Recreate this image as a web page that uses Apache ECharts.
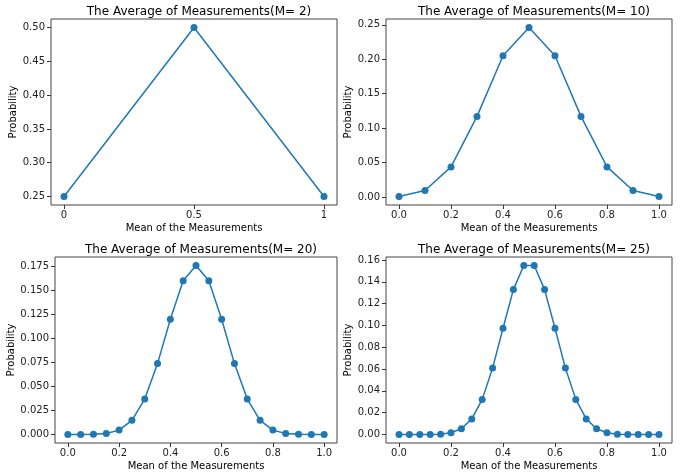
<!DOCTYPE html>
<html>
<head>
<meta charset="utf-8">
<script src="https://cdn.jsdelivr.net/npm/echarts@6/dist/echarts.min.js"></script>
<style>html,body{margin:0;padding:0;background:#fff}#c{width:692px;height:474px}</style>
</head>
<body>
<div id="c"></div>
<script>
// ---- data ----
const titles = ['The Average of Measurements(M= 2)', 'The Average of Measurements(M= 10)', 'The Average of Measurements(M= 20)', 'The Average of Measurements(M= 25)'];
const xM2 = [0, 0.5, 1];
const yM2 = [0.25, 0.5, 0.25];
const xM10 = [0, 0.1, 0.2, 0.3, 0.4, 0.5, 0.6, 0.7, 0.8, 0.9, 1.0];
const yM10 = [0.000977, 0.009766, 0.043945, 0.117188, 0.205078, 0.246094, 0.205078, 0.117188, 0.043945, 0.009766, 0.000977];
const xM20 = [0, 0.05, 0.1, 0.15, 0.2, 0.25, 0.3, 0.35, 0.4, 0.45, 0.5, 0.55, 0.6, 0.65, 0.7, 0.75, 0.8, 0.85, 0.9, 0.95, 1.0];
const yM20 = [0.000001, 0.000019, 0.000181, 0.001087, 0.004621, 0.014786, 0.036964, 0.073929, 0.120134, 0.160179, 0.176197, 0.160179, 0.120134, 0.073929, 0.036964, 0.014786, 0.004621, 0.001087, 0.000181, 0.000019, 0.000001];
const xM25 = [0, 0.04, 0.08, 0.12, 0.16, 0.2, 0.24, 0.28, 0.32, 0.36, 0.4, 0.44, 0.48, 0.52, 0.56, 0.6, 0.64, 0.68, 0.72, 0.76, 0.8, 0.84, 0.88, 0.92, 0.96, 1.0];
const yM25 = [0.00000003, 0.00000075, 0.0000089, 0.0000685, 0.000377, 0.001583, 0.005278, 0.014326, 0.032233, 0.060886, 0.097417, 0.132842, 0.154982, 0.154982, 0.132842, 0.097417, 0.060886, 0.032233, 0.014326, 0.005278, 0.001583, 0.000377, 0.0000685, 0.0000089, 0.00000075, 0.00000003];
// tick labels
const xTicksM2 = [0, 0.5, 1];
const xTicksOther = [0, 0.2, 0.4, 0.6, 0.8, 1.0];
const yTicksM2 = [0.25, 0.30, 0.35, 0.40, 0.45, 0.50];
const yTicksM10 = [0, 0.05, 0.10, 0.15, 0.20, 0.25];
const yTicksM20 = [0, 0.025, 0.05, 0.075, 0.1, 0.125, 0.15, 0.175];
const yTicksM25 = [0, 0.02, 0.04, 0.06, 0.08, 0.10, 0.12, 0.14, 0.16];

// ---- layout ----
const panels = [
  {x: xM2, y: yM2, xt: xTicksM2, yt: yTicksM2, xfmt: v => String(v), ydec: 2, grid: {left: 51, top: 19, width: 286, height: 186}, ygap: 27},
  {x: xM10, y: yM10, xt: xTicksOther, yt: yTicksM10, xfmt: v => v.toFixed(1), ydec: 2, grid: {left: 386, top: 19, width: 286, height: 186}, ygap: 26},
  {x: xM20, y: yM20, xt: xTicksOther, yt: yTicksM20, xfmt: v => v.toFixed(1), ydec: 3, grid: {left: 55, top: 257, width: 282, height: 186}, ygap: 29},
  {x: xM25, y: yM25, xt: xTicksOther, yt: yTicksM25, xfmt: v => v.toFixed(1), ydec: 2, grid: {left: 386, top: 257, width: 286, height: 186}, ygap: 26}
];

const font = 'DejaVu Sans';
const option = {
  backgroundColor: '#fff',
  animation: false,
  title: [], grid: [], xAxis: [], yAxis: [], series: []
};
panels.forEach((p, i) => {
  const ymin = Math.min(...p.y), ymax = Math.max(...p.y);
  const ym = (ymax - ymin) * 0.05;
  option.title.push({
    text: titles[i], left: p.grid.left + p.grid.width / 2, top: p.grid.top - 18,
    textAlign: 'center',
    textStyle: {fontFamily: font, fontSize: 12, fontWeight: 'normal', color: '#000'}
  });
  option.grid.push(Object.assign({show: true, borderColor: '#444', borderWidth: 1, backgroundColor: '#fff'}, p.grid));
  option.xAxis.push({
    type: 'value', gridIndex: i, min: -0.05, max: 1.05,
    name: 'Mean of the Measurements', nameLocation: 'middle', nameGap: 18,
    nameTextStyle: {fontFamily: font, fontSize: 10, color: '#000'},
    axisLine: {show: false, onZero: false},
    splitLine: {show: false},
    axisTick: {show: true, length: 4, customValues: p.xt, lineStyle: {color: '#333'}},
    axisLabel: {customValues: p.xt, formatter: p.xfmt, margin: 5, fontFamily: font, fontSize: 10, color: '#222'}
  });
  option.yAxis.push({
    type: 'value', gridIndex: i, min: ymin - ym, max: ymax + ym,
    name: 'Probability', nameLocation: 'middle', nameGap: p.ygap,
    nameTextStyle: {fontFamily: font, fontSize: 10, color: '#000'},
    axisLine: {show: false, onZero: false},
    splitLine: {show: false},
    axisTick: {show: true, length: 4, customValues: p.yt, lineStyle: {color: '#333'}},
    axisLabel: {customValues: p.yt, formatter: v => Number(v).toFixed(p.ydec), margin: 6, fontFamily: font, fontSize: 10, color: '#222'}
  });
  option.series.push({
    type: 'line', xAxisIndex: i, yAxisIndex: i,
    data: p.x.map((xv, k) => [xv, p.y[k]]),
    symbol: 'circle', symbolSize: 7, showSymbol: true,
    lineStyle: {color: '#1f77b4', width: 1.5},
    itemStyle: {color: '#1f77b4'}
  });
});
const chart = echarts.init(document.getElementById('c'), null, {renderer: 'canvas'});
chart.setOption(option);
</script>
</body>
</html>
